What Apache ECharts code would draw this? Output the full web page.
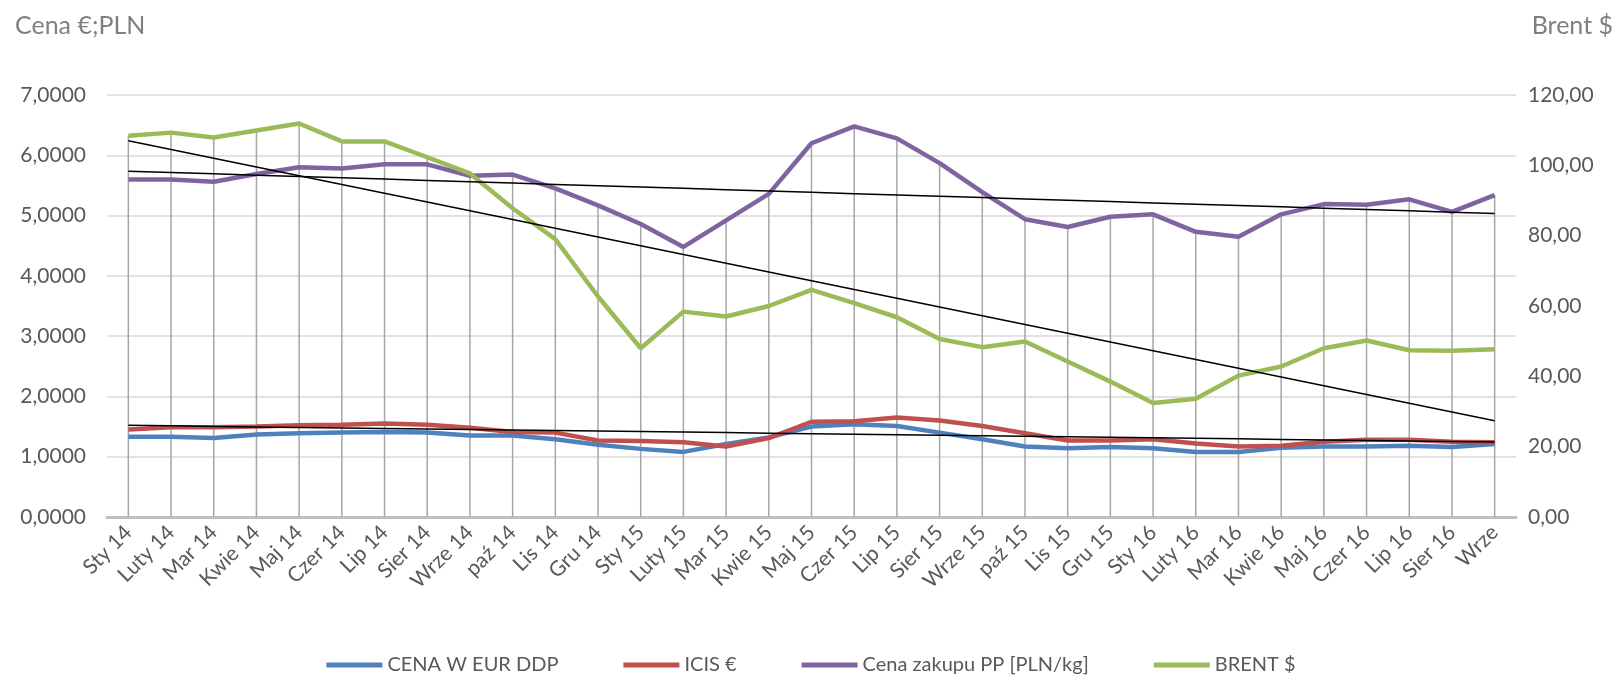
<!DOCTYPE html>
<html>
<head>
<meta charset="utf-8">
<script src="https://cdn.jsdelivr.net/npm/echarts@6/dist/echarts.min.js"></script>
<style>
  html, body { margin: 0; padding: 0; background: #fff; }
  #chart { width: 1622px; height: 677px; }
</style>
</head>
<body>
<div id="chart"></div>
<script>
const categories = ['Sty 14', 'Luty 14', 'Mar 14', 'Kwie 14', 'Maj 14', 'Czer 14', 'Lip 14', 'Sier 14', 'Wrze 14', 'paź 14', 'Lis 14', 'Gru 14',
  'Sty 15', 'Luty 15', 'Mar 15', 'Kwie 15', 'Maj 15', 'Czer 15', 'Lip 15', 'Sier 15', 'Wrze 15', 'paź 15', 'Lis 15', 'Gru 15',
  'Sty 16', 'Luty 16', 'Mar 16', 'Kwie 16', 'Maj 16', 'Czer 16', 'Lip 16', 'Sier 16', 'Wrze']

const cenaEur = [1.33, 1.33, 1.31, 1.37, 1.39, 1.40, 1.41, 1.40, 1.35, 1.35, 1.29, 1.20,
  1.13, 1.08, 1.21, 1.32, 1.50, 1.54, 1.51, 1.40, 1.29, 1.17, 1.14, 1.16,
  1.14, 1.08, 1.08, 1.15, 1.17, 1.17, 1.18, 1.16, 1.21]
const icis = [1.45, 1.49, 1.49, 1.50, 1.52, 1.53, 1.55, 1.53, 1.48, 1.41, 1.40, 1.27,
  1.26, 1.24, 1.17, 1.31, 1.58, 1.59, 1.65, 1.60, 1.51, 1.39, 1.27, 1.27,
  1.29, 1.22, 1.17, 1.18, 1.25, 1.28, 1.28, 1.25, 1.24]
const cenaPP = [5.60, 5.60, 5.56, 5.69, 5.80, 5.78, 5.85, 5.85, 5.66, 5.68, 5.45, 5.17,
  4.86, 4.48, 4.92, 5.36, 6.20, 6.48, 6.28, 5.87, 5.39, 4.94, 4.81, 4.98,
  5.02, 4.73, 4.65, 5.02, 5.19, 5.18, 5.27, 5.06, 5.34]
const brent = [108.4, 109.3, 107.9, 109.9, 111.9, 106.8, 106.8, 102.3, 97.7, 87.8, 79.0, 62.7,
  48.0, 58.4, 57.0, 60.0, 64.6, 60.8, 56.8, 50.6, 48.3, 49.9, 44.2, 38.5,
  32.4, 33.6, 40.2, 42.8, 48.0, 50.2, 47.4, 47.3, 47.7]

const leftMax = 7
const rightMax = 120
const font = 'Lato, "Noto Sans", sans-serif'

// linear trend (least squares) over category index
function trend(vals) {
  const n = vals.length
  let sx = 0, sy = 0, sxy = 0, sxx = 0
  vals.forEach((v, i) => { sx += i; sy += v; sxy += i * v; sxx += i * i })
  const b = (n * sxy - sx * sy) / (n * sxx - sx * sx)
  const a = (sy - b * sx) / n
  return vals.map((v, i) => a + b * i)
}

// drop line from the highest point at each category down to the axis
const dropTops = categories.map((c, i) =>
  [i, Math.max(cenaEur[i], icis[i], cenaPP[i], brent[i] * leftMax / rightMax)])

const trendLine = (data, yAxisIndex) => ({
  type: 'line', data, yAxisIndex, symbol: 'none', silent: true, z: 5,
  lineStyle: { color: '#000', width: 1.5 }
})

const chart = echarts.init(document.getElementById('chart'))
chart.setOption({
  animation: false,
  textStyle: { fontFamily: font },
  title: [
    { text: 'Cena €;PLN', left: 10, top: 8, textStyle: { fontFamily: font, fontSize: 25, fontWeight: 'normal', color: '#7f7f7f' } },
    { text: 'Brent $', right: 4, top: 8, textStyle: { fontFamily: font, fontSize: 25, fontWeight: 'normal', color: '#7f7f7f' } }
  ],
  grid: { left: 107, right: 106, top: 95, bottom: 160 },
  legend: {
    top: 650,
    left: 'center',
    icon: 'rect',
    itemWidth: 56,
    itemHeight: 5,
    itemGap: 65,
    data: ['CENA W EUR DDP', 'ICIS €', 'Cena zakupu PP [PLN/kg]', 'BRENT $'],
    textStyle: { fontFamily: font, fontSize: 20, color: '#595959' }
  },
  xAxis: {
    type: 'category',
    data: categories,
    boundaryGap: true,
    axisLine: { lineStyle: { color: '#bfbfbf', width: 3 } },
    axisTick: { show: false },
    axisLabel: { interval: 0, rotate: 45, margin: 12, fontSize: 21, color: '#595959', fontFamily: font }
  },
  yAxis: [
    {
      type: 'value', min: 0, max: leftMax, interval: 1,
      axisLine: { show: false }, axisTick: { show: false },
      splitLine: { lineStyle: { color: '#d9d9d9', width: 1.5 } },
      axisLabel: { margin: 21, fontSize: 21, color: '#595959', fontFamily: font,
        formatter: v => v.toFixed(4).replace('.', ',') }
    },
    {
      type: 'value', min: 0, max: rightMax, interval: 20,
      axisLine: { show: false }, axisTick: { show: false },
      splitLine: { show: false },
      axisLabel: { margin: 12, fontSize: 21, color: '#595959', fontFamily: font,
        formatter: v => v.toFixed(2).replace('.', ',') }
    }
  ],
  series: [
    {
      type: 'custom', silent: true, z: 1,
      data: dropTops,
      renderItem: (params, api) => {
        const top = api.coord([api.value(0), api.value(1)])
        const bottom = api.coord([api.value(0), 0])
        return { type: 'line', shape: { x1: top[0], y1: top[1], x2: bottom[0], y2: bottom[1] },
          style: { stroke: '#a6a6a6', lineWidth: 1.5 } }
      }
    },
    { name: 'CENA W EUR DDP', type: 'line', data: cenaEur, symbol: 'none', z: 3, itemStyle: { color: '#4f81bd' }, lineStyle: { width: 4.5, color: '#4f81bd' } },
    { name: 'ICIS €', type: 'line', data: icis, symbol: 'none', z: 3, itemStyle: { color: '#c0504d' }, lineStyle: { width: 4.5, color: '#c0504d' } },
    { name: 'Cena zakupu PP [PLN/kg]', type: 'line', data: cenaPP, symbol: 'none', z: 3, itemStyle: { color: '#8064a2' }, lineStyle: { width: 4.5, color: '#8064a2' } },
    { name: 'BRENT $', type: 'line', data: brent, yAxisIndex: 1, symbol: 'none', z: 3, itemStyle: { color: '#9bbb59' }, lineStyle: { width: 4.5, color: '#9bbb59' } },
    trendLine(trend(cenaPP), 0),
    trendLine(trend(brent), 1),
    trendLine(trend(icis), 0)
  ]
})
</script>
</body>
</html>
